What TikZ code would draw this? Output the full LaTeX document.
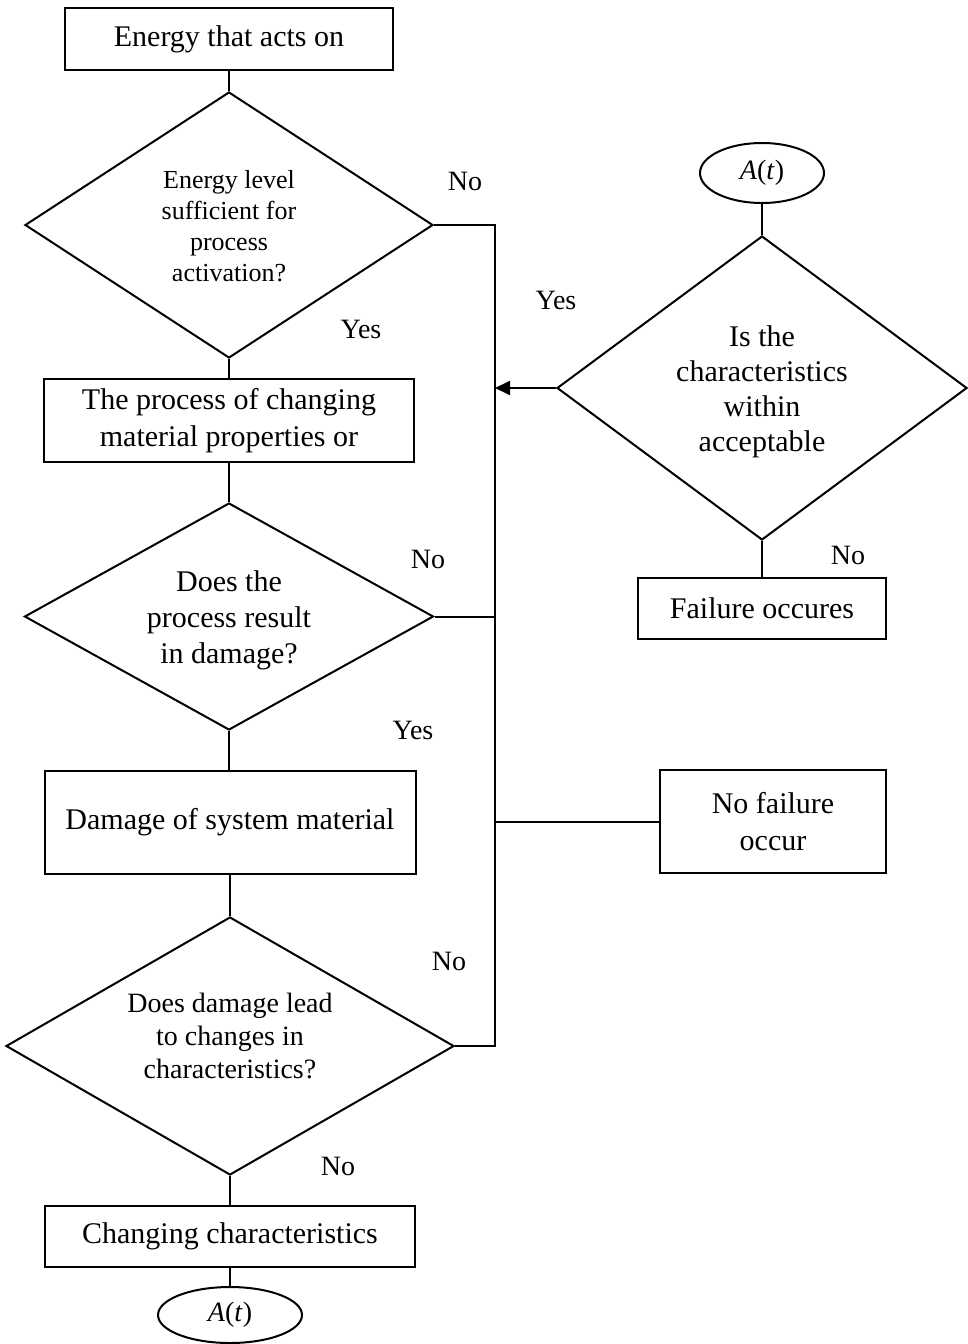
\documentclass[tikz,border=0pt]{standalone}
\usepackage{fontspec}
\setmainfont{Liberation Serif}
\usetikzlibrary{shapes.geometric,arrows.meta}
\begin{document}
\begin{tikzpicture}[x=1pt,y=-1pt,line width=2pt,
  proc/.style={draw, rectangle, inner sep=0pt, align=center,
    font=\fontsize{30}{37}\selectfont},
  cond/.style={draw, diamond, inner sep=0pt},
  qtext/.style={inner sep=0pt, align=center},
  term/.style={draw, ellipse, inner sep=0pt, font=\fontsize{28}{34}\selectfont},
  lbl/.style={inner sep=0pt, font=\fontsize{28}{34}\selectfont},
  tip/.style={-{Triangle[length=15pt,width=14pt]}}]
\useasboundingbox (0,0) rectangle (967,1344);

% main column
\node[proc, minimum width=328pt, minimum height=62pt] (start) at (229,39) {Energy that acts on};
\node[cond, minimum width=408pt, minimum height=266pt] (d1) at (229,225) {};
\node[qtext, font=\fontsize{26}{31}\selectfont] (d1t) at (229,226)
  {Energy level\\sufficient for\\process\\activation?};
\node[proc, minimum width=370pt, minimum height=83pt] (change) at (229,420.5)
  {The process of changing\\material properties or};
\node[cond, minimum width=409pt, minimum height=227pt] (d2) at (229,616.5) {};
\node[qtext, font=\fontsize{30}{36}\selectfont] (d2t) at (229,620)
  {Does the\\process result\\in damage?};
\node[proc, minimum width=371pt, minimum height=103pt] (damage) at (230,822.5)
  {Damage of system material};
\node[cond, minimum width=448pt, minimum height=258pt] (d3) at (230,1046) {};
\node[qtext, font=\fontsize{28}{33}\selectfont] (d3t) at (230,1036)
  {Does damage lead\\to changes in\\characteristics?};
\node[proc, minimum width=370pt, minimum height=61pt] (chg) at (230,1236.5)
  {Changing characteristics};
\node[term, minimum width=144pt, minimum height=56pt] (endA) at (230,1315)
  {\textit{A}(\textit{t})};

% right column
\node[term, minimum width=124pt, minimum height=60pt] (startA) at (762,173)
  {\textit{A}(\textit{t})};
\node[cond, minimum width=410pt, minimum height=304pt] (d4) at (762,388) {};
\node[qtext, font=\fontsize{30}{35}\selectfont] (d4t) at (762,392)
  {Is the\\characteristics\\within\\acceptable};
\node[proc, minimum width=248pt, minimum height=61pt] (fail) at (762,608.5)
  {Failure occures};
\node[proc, minimum width=226pt, minimum height=103pt] (nofail) at (773,821.5)
  {No failure\\occur};

% vertical collector line
\coordinate (j1) at (495,225);
\coordinate (j3) at (495,1046);
\coordinate (j2) at (d2.east -| j1);
\coordinate (ja) at (d4.west -| j1);
\coordinate (jn) at (nofail.west -| j1);

% connectors
\draw (start.south) -- (d1.north);
\draw (d1.south) -- (change.north);
\draw (change.south) -- (d2.north);
\draw (d2.south) -- (d2.south |- damage.north);
\draw (damage.south) -- (d3.north);
\draw (d3.south) -- (chg.north);
\draw (chg.south) -- (endA.north);
\draw (startA.south) -- (d4.north);
\draw (d4.south) -- (fail.north);
\draw (d1.east) -- (j1) -- (j3) -- (d3.east);
\draw (d2.east) -- (j2);
\draw (nofail.west) -- (jn);
\draw[tip] (d4.west) -- (ja);

% branch labels
\node[lbl] (l1) at (465,181) {No};
\node[lbl] (l2) at (361,329) {Yes};
\node[lbl] (l3) at (556,300) {Yes};
\node[lbl] (l4) at (428,559) {No};
\node[lbl] (l5) at (413,730) {Yes};
\node[lbl] (l6) at (848,555) {No};
\node[lbl] (l7) at (449,961) {No};
\node[lbl] (l8) at (338,1166) {No};
\end{tikzpicture}
\end{document}
